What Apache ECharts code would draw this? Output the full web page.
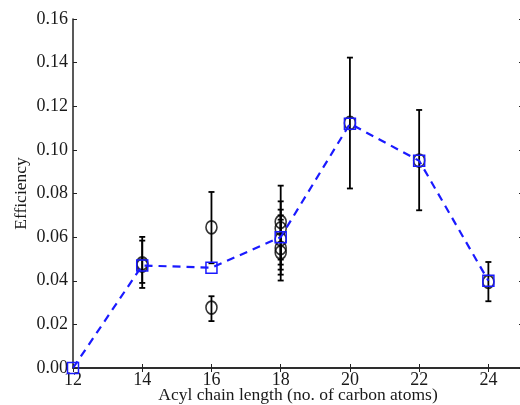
<!DOCTYPE html>
<html>
<head>
<meta charset="utf-8">
<script src="https://cdn.jsdelivr.net/npm/echarts@6/dist/echarts.min.js"></script>
<style>html,body{margin:0;padding:0;background:#fff}#c{width:520px;height:405px}</style>
</head>
<body>
<div id="c"></div>
<script>
// Mean efficiency per chain length (blue dashed line with squares)
const lengths = [12, 14, 16, 18, 20, 22, 24];
const meanEff = [0.0, 0.047, 0.046, 0.060, 0.112, 0.095, 0.040];
// Individual measurements (black circles) with error bar ends
const obsX = [14, 14, 16, 16, 18, 18, 18, 18, 18, 20, 22, 24];
const obsY = [0.048, 0.047, 0.0645, 0.0277, 0.067, 0.064, 0.059, 0.055, 0.053, 0.1123, 0.0951, 0.0395];
const errHigh = [0.0601, 0.0584, 0.0807, 0.0329, 0.0836, 0.0764, 0.0726, 0.0700, 0.0680, 0.1423, 0.1183, 0.0486];
const errLow = [0.0367, 0.0390, 0.0480, 0.0215, 0.0497, 0.0474, 0.0451, 0.0428, 0.0401, 0.0823, 0.0723, 0.0306];
const xTicks = [12, 14, 16, 18, 20, 22, 24];
const yTicks = [0, 0.02, 0.04, 0.06, 0.08, 0.10, 0.12, 0.14, 0.16];

const FONT = 'Liberation Serif';
const chart = echarts.init(document.getElementById('c'));

const errData = obsX.map((x, i) => [x, errLow[i], errHigh[i]]);
const obsData = obsX.map((x, i) => [x, obsY[i]]);
const meanData = lengths.map((x, i) => [x, meanEff[i]]);

const axisLine = {show: true, lineStyle: {color: '#222', width: 1.5}};
const tick = {show: true, inside: true, length: 4, lineStyle: {color: '#222'}};
chart.setOption({
  animation: false,
  grid: {left: 73, top: 19, right: -3, bottom: 37, outerBoundsMode: 'none', containLabel: false},
  xAxis: [{
    type: 'value', min: 12, max: 25, interval: 2,
    name: 'Acyl chain length (no. of carbon atoms)',
    nameLocation: 'middle', nameGap: 18, nameMoveOverlap: false,
    nameTextStyle: {fontFamily: FONT, fontSize: 17.5, color: '#1a1a1a'},
    axisLine: axisLine, axisTick: tick,
    axisLabel: {fontFamily: FONT, fontSize: 18, color: '#1a1a1a', margin: 3,
      formatter: v => xTicks.includes(v) ? String(v) : ''},
    splitLine: {show: false}
  }, {
    type: 'value', position: 'top', min: 12, max: 25, interval: 2,
    axisLine: axisLine, axisTick: tick,
    axisLabel: {show: false}, splitLine: {show: false}
  }],
  yAxis: [{
    type: 'value', min: 0, max: 0.16, interval: 0.02,
    name: 'Efficiency', nameLocation: 'middle', nameGap: 43, nameRotate: 90, nameMoveOverlap: false,
    nameTextStyle: {fontFamily: FONT, fontSize: 17.5, color: '#1a1a1a'},
    axisLine: axisLine, axisTick: tick,
    axisLabel: {fontFamily: FONT, fontSize: 18, color: '#1a1a1a', margin: 5,
      formatter: v => v.toFixed(2)},
    splitLine: {show: false}
  }, {
    type: 'value', position: 'right', min: 0, max: 0.16, interval: 0.02,
    axisLine: axisLine, axisTick: tick,
    axisLabel: {show: false}, splitLine: {show: false}
  }],
  series: [{
    type: 'custom',
    data: errData,
    z: 2,
    renderItem: function (params, api) {
      const x = api.value(0);
      const lo = api.coord([x, api.value(1)]);
      const hi = api.coord([x, api.value(2)]);
      const cw = 3;
      const style = {stroke: '#000', lineWidth: 1.8};
      return {type: 'group', children: [
        {type: 'line', shape: {x1: lo[0], y1: lo[1], x2: hi[0], y2: hi[1]}, style: style},
        {type: 'line', shape: {x1: lo[0] - cw, y1: lo[1], x2: lo[0] + cw, y2: lo[1]}, style: style},
        {type: 'line', shape: {x1: hi[0] - cw, y1: hi[1], x2: hi[0] + cw, y2: hi[1]}, style: style}
      ]};
    }
  }, {
    type: 'scatter',
    data: obsData,
    z: 3,
    symbol: 'circle',
    symbolSize: [11, 13],
    itemStyle: {color: 'rgba(0,0,0,0)', borderColor: '#000', borderWidth: 1.7}
  }, {
    type: 'line',
    data: meanData,
    z: 4,
    symbol: 'rect',
    symbolSize: 11,
    showAllSymbol: true,
    itemStyle: {color: 'rgba(0,0,0,0)', borderColor: '#1a1aff', borderWidth: 1.5},
    lineStyle: {color: '#1a1aff', width: 2.2, type: [8, 6]}
  }]
});
</script>
</body>
</html>
